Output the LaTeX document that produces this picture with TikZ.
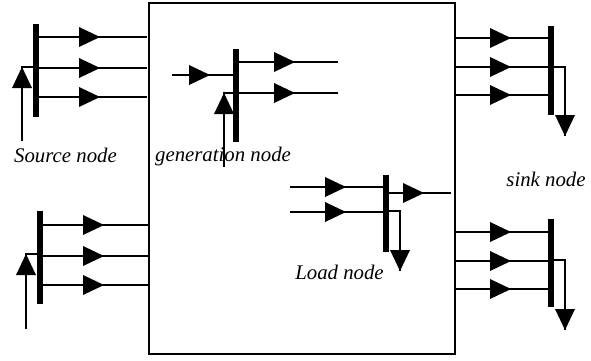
\documentclass[tikz,border=0pt]{standalone}
\usepackage{fontspec}
\setmainfont{Liberation Serif}
\usetikzlibrary{shapes.geometric}

\begin{document}
\begin{tikzpicture}[x=1pt, y=-1pt, line width=1.3pt,
    bar/.style={rectangle, fill=black, inner sep=0pt, outer sep=0pt, minimum width=6pt},
    tip/.style={isosceles triangle, isosceles triangle stretches, fill=black, inner sep=0pt, outer sep=0pt, minimum width=20pt, minimum height=21pt, anchor=apex},
    label/.style={font=\fontsize{20.8}{24}\selectfont\itshape, inner sep=0pt}]
  \useasboundingbox (0,0) rectangle (591,360);
  \node[draw, rectangle, inner sep=0pt, outer sep=0pt, minimum width=306pt, minimum height=351pt] (box) at (302,178.5) {};

  \node[bar, minimum height=93pt] (sourcea) at (36,70.5) {};
  \node[bar, minimum height=93pt] (sourceb) at (40,257.5) {};
  \node[bar, minimum height=93pt] (gen) at (236,95.5) {};
  \node[bar, minimum height=77pt] (load) at (386,213.5) {};
  \node[bar, minimum height=89pt] (sinka) at (551,70.5) {};
  \node[bar, minimum height=88pt] (sinkb) at (551,263) {};

  \foreach \n/\y in {a/37,b/68,c/97}{
    \node[tip] (sourcea\n) at (100,\y) {};
    \coordinate (sourcea\n end) at (147,\y);
    \draw (sourcea.east |- sourcea\n.apex) -- (sourcea\n.apex) -- (sourcea\n end);
  }
  \foreach \n/\y in {a/225,b/256,c/285}{
    \node[tip] (sourceb\n) at (104,\y) {};
    \draw (sourceb.east |- sourceb\n.apex) -- (sourceb\n.apex) -- (box.west |- sourceb\n.apex);
  }
  \foreach \n/\y in {a/62,b/93}{
    \node[tip] (gen\n) at (295,\y) {};
    \coordinate (gen\n end) at (338,\y);
    \draw (gen.east |- gen\n.apex) -- (gen\n.apex) -- (gen\n end);
  }
  \foreach \n/\y in {a/187,b/212}{
    \node[tip] (load\n) at (346,\y) {};
    \coordinate (load\n start) at (290,\y);
    \draw (load\n start) -- (load\n.apex) -- (load.west |- load\n.apex);
  }
  \foreach \n/\y in {a/38,b/67,c/95}{
    \node[tip] (sinka\n) at (511,\y) {};
    \draw (box.east |- sinka\n.apex) -- (sinka\n.apex) -- (sinka.west |- sinka\n.apex);
  }
  \foreach \n/\y in {a/232,b/261,c/289}{
    \node[tip] (sinkb\n) at (511,\y) {};
    \draw (box.east |- sinkb\n.apex) -- (sinkb\n.apex) -- (sinkb.west |- sinkb\n.apex);
  }

  \node[tip] (genin) at (210,75) {};
  \coordinate (geninstart) at (172,75);
  \draw (geninstart) -- (genin.apex) -- (gen.west |- genin.apex);
  \node[tip] (loadout) at (424,193) {};
  \coordinate (loadoutend) at (451,193);
  \draw (load.east |- loadout.apex) -- (loadout.apex) -- (loadoutend);

  \node[tip, shape border rotate=90] (sourceaup) at (22,67) {};
  \coordinate (sourceastart) at (22,141);
  \draw (sourceastart) -- (sourceaup.apex) -- (sourcea.west |- sourceaup.apex);
  \node[tip, shape border rotate=90] (sourcebup) at (26,254) {};
  \coordinate (sourcebstart) at (26,329);
  \draw (sourcebstart) -- (sourcebup.apex) -- (sourceb.west |- sourcebup.apex);
  \node[tip, shape border rotate=90] (genup) at (224,93) {};
  \coordinate (genstart) at (224,167);
  \draw (genstart) -- (genup.apex) -- (gen.west |- genup.apex);

  \node[tip, shape border rotate=270] (sinkadown) at (565,136) {};
  \coordinate (sinkaturn) at (565,67);
  \draw (sinka.east |- sinkaturn) -- (sinkaturn) -- (sinkadown.apex);
  \node[tip, shape border rotate=270] (sinkbdown) at (565,330) {};
  \coordinate (sinkbturn) at (565,260);
  \draw (sinkb.east |- sinkbturn) -- (sinkbturn) -- (sinkbdown.apex);
  \node[tip, shape border rotate=270] (loaddown) at (400,271) {};
  \coordinate (loadturn) at (400,211);
  \draw (load.east |- loadturn) -- (loadturn) -- (loaddown.apex);

  \node[label] (sourcetext) at (65.5,155) {Source node};
  \node[label] (gentext) at (223,156) {generation node};
  \node[label] (sinktext) at (546,179) {sink node};
  \node[label] (loadtext) at (339.5,272) {Load node};
\end{tikzpicture}
\end{document}
